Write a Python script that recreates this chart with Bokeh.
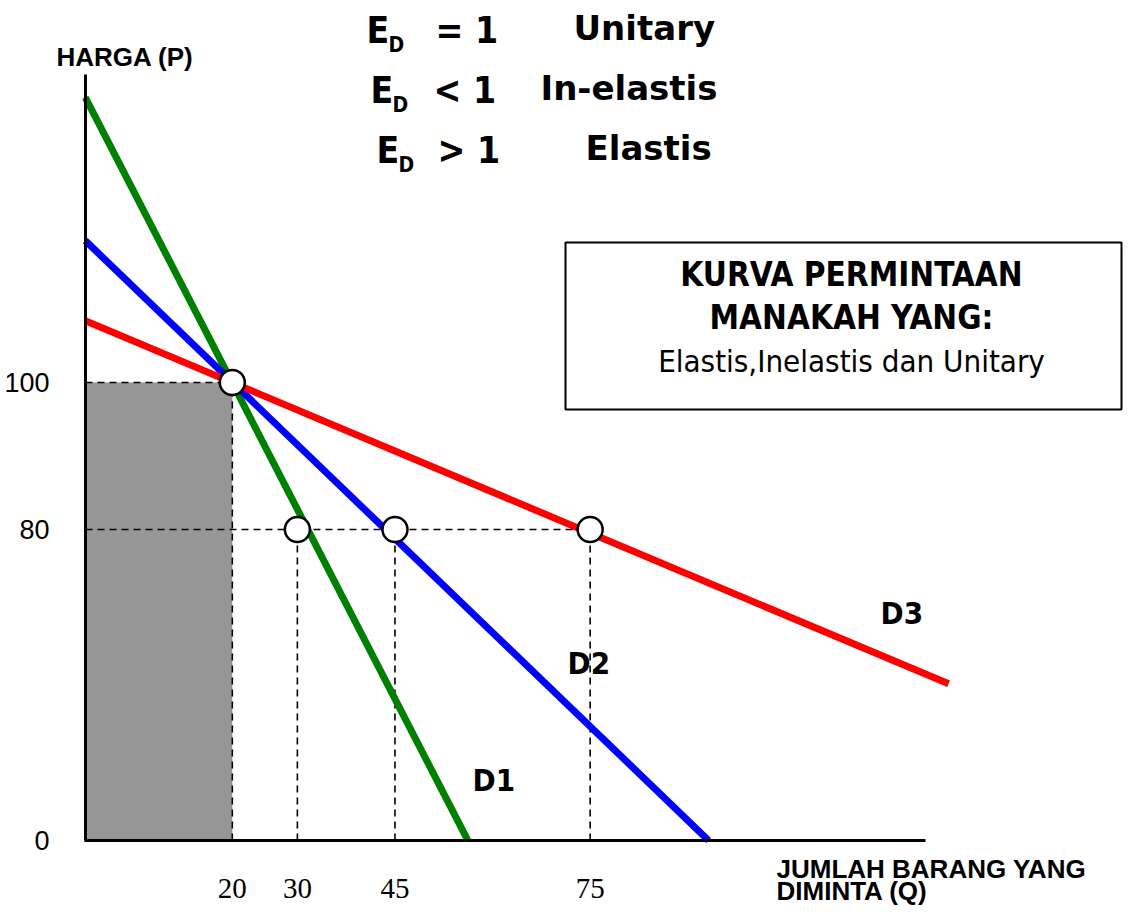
from bokeh.plotting import figure
from bokeh.models import Range1d, FixedTicker, Label, BoxAnnotation
from bokeh.embed import file_html
from bokeh.resources import INLINE

# ---------------- data ----------------
q_ticks = [20, 30, 45, 75]          # quantities marked on the Q axis
p_ticks = [80, 100]                 # prices marked on the P axis
zero_label = "0"

eq_q, eq_p = 20, 100                # common starting point of all curves
new_p = 80                          # price after the fall
new_q = [30, 45, 75]                # quantity demanded at P=80 on D1, D2, D3

curve_names = ["D1", "D2", "D3"]
curve_colors = ["#008000", "#0000FF", "#FF0000"]
d1_q = [-2.6, 56.2]
d1_p = [138.8, 37.7]
d2_q = [-2.6, 93.2]
d2_p = [119.3, 37.7]
d3_q = [-2.6, 130.1]
d3_p = [108.4, 59.0]

# ------------- layout helpers (picture pixel -> chart units) -------------
def qx(px):
    return (px - 101.7) / 6.506


def py_(py):
    return 100 + (382 - py) / 7.35


W, H = 1123, 906
X0 = round(qx(85), 4)     # where the P axis stands
Y0 = round(py_(840), 4)   # where the Q axis stands

p = figure(width=W, height=H, output_backend="svg", toolbar_location=None,
           x_range=Range1d(qx(0), qx(W)), y_range=Range1d(py_(H), py_(0)),
           min_border_left=0, min_border_right=0, min_border_top=0,
           min_border_bottom=0)
p.outline_line_color = None
p.grid.visible = False
p.background_fill_color = "white"
p.border_fill_color = "white"

# shaded revenue rectangle
p.quad(left=[X0], right=[eq_q], bottom=[Y0], top=[eq_p],
       fill_color="#969696", line_color=None)

# dashed guides
dash = dict(line_color="black", line_width=1.6, line_dash="7 5")
p.segment(x0=[X0], y0=[eq_p], x1=[eq_q], y1=[eq_p], **dash)
p.segment(x0=[eq_q], y0=[Y0], x1=[eq_q], y1=[eq_p], **dash)
p.segment(x0=[X0], y0=[new_p], x1=[max(new_q)], y1=[new_p], **dash)
p.segment(x0=new_q, y0=[Y0] * len(new_q), x1=new_q, y1=[new_p] * len(new_q), **dash)

# demand curves
for qs, ps, c in zip([d1_q, d2_q, d3_q], [d1_p, d2_p, d3_p], curve_colors):
    p.line(qs, ps, line_color=c, line_width=7)

# points
p.scatter([eq_q] + new_q, [eq_p] + [new_p] * len(new_q), size=25,
          fill_color="white", line_color="black", line_width=2.5)

# axes, pinned inside the frame
for ax in p.axis:
    ax.axis_line_width = 3
    ax.axis_line_color = "black"
    ax.major_tick_line_color = None
    ax.minor_tick_line_color = None
    ax.major_tick_out = 0
    ax.major_tick_in = 0
p.xaxis.fixed_location = Y0
p.yaxis.fixed_location = X0
p.xaxis.bounds = (qx(83.5), qx(925))
p.yaxis.bounds = (Y0, py_(74))
p.xaxis.ticker = FixedTicker(ticks=q_ticks)
p.yaxis.ticker = FixedTicker(ticks=[Y0] + p_ticks)
p.yaxis.major_label_overrides = {Y0: zero_label}
p.xaxis.major_label_text_font = "Liberation Serif"
p.xaxis.major_label_text_font_size = "29px"
p.xaxis.major_label_standoff = 39
p.yaxis.major_label_text_font = "Liberation Sans"
p.yaxis.major_label_text_font_size = "27px"
p.yaxis.major_label_standoff = 36
p.xaxis.major_label_text_color = "black"
p.yaxis.major_label_text_color = "black"


def lab(text, px, py, size, font, style="bold", align="left"):
    # py is the wanted baseline; the label renders about 0.37 em lower
    p.add_layout(Label(x=qx(px), y=py_(py - 0.37 * size), text=text,
                       text_font=font, text_font_size=f"{size}px",
                       text_font_style=style, text_align=align,
                       text_baseline="alphabetic", text_color="black"))


# axis titles
lab("HARGA (P)", 56, 66, 26, "Liberation Sans")
lab("JUMLAH BARANG YANG", 776, 878, 26, "Liberation Sans")
lab("DIMINTA (Q)", 776, 900, 26, "Liberation Sans")

# elasticity legend rows
rows = [("=", "Unitary", 366, 435, 573, 0),
        ("<", "In-elastis", 370, 433, 540, 60),
        (">", "Elastis", 376, 437, 585, 120)]
for op, word, ex, ox, wx, dy in rows:
    lab("E", ex, 44 + dy, 37, "DejaVu Sans Condensed")
    lab("D", ex + 22, 52 + dy, 21, "DejaVu Sans Condensed")
    lab(op + " 1", ox, 44 + dy, 37, "DejaVu Sans Condensed")
    lab(word, wx, 40 + dy, 34, "DejaVu Sans")

# question box
p.add_layout(BoxAnnotation(left=qx(565), right=qx(1121), top=py_(242),
                           bottom=py_(409), fill_color="white", fill_alpha=1.0,
                           line_color="black", line_alpha=1.0, line_width=2))
lab("KURVA PERMINTAAN", 851, 286, 33, "DejaVu Sans Condensed", align="center")
lab("MANAKAH YANG:", 851, 329, 33, "DejaVu Sans Condensed", align="center")
lab("Elastis,Inelastis dan Unitary", 851, 372, 31, "DejaVu Sans Condensed",
    style="normal", align="center")

# curve names
for name, (px, py) in zip(curve_names, [(472, 791), (567, 674), (880, 624)]):
    lab(name, px, py, 31, "DejaVu Sans Condensed")

open("out.html", "w").write(file_html(p, INLINE))
